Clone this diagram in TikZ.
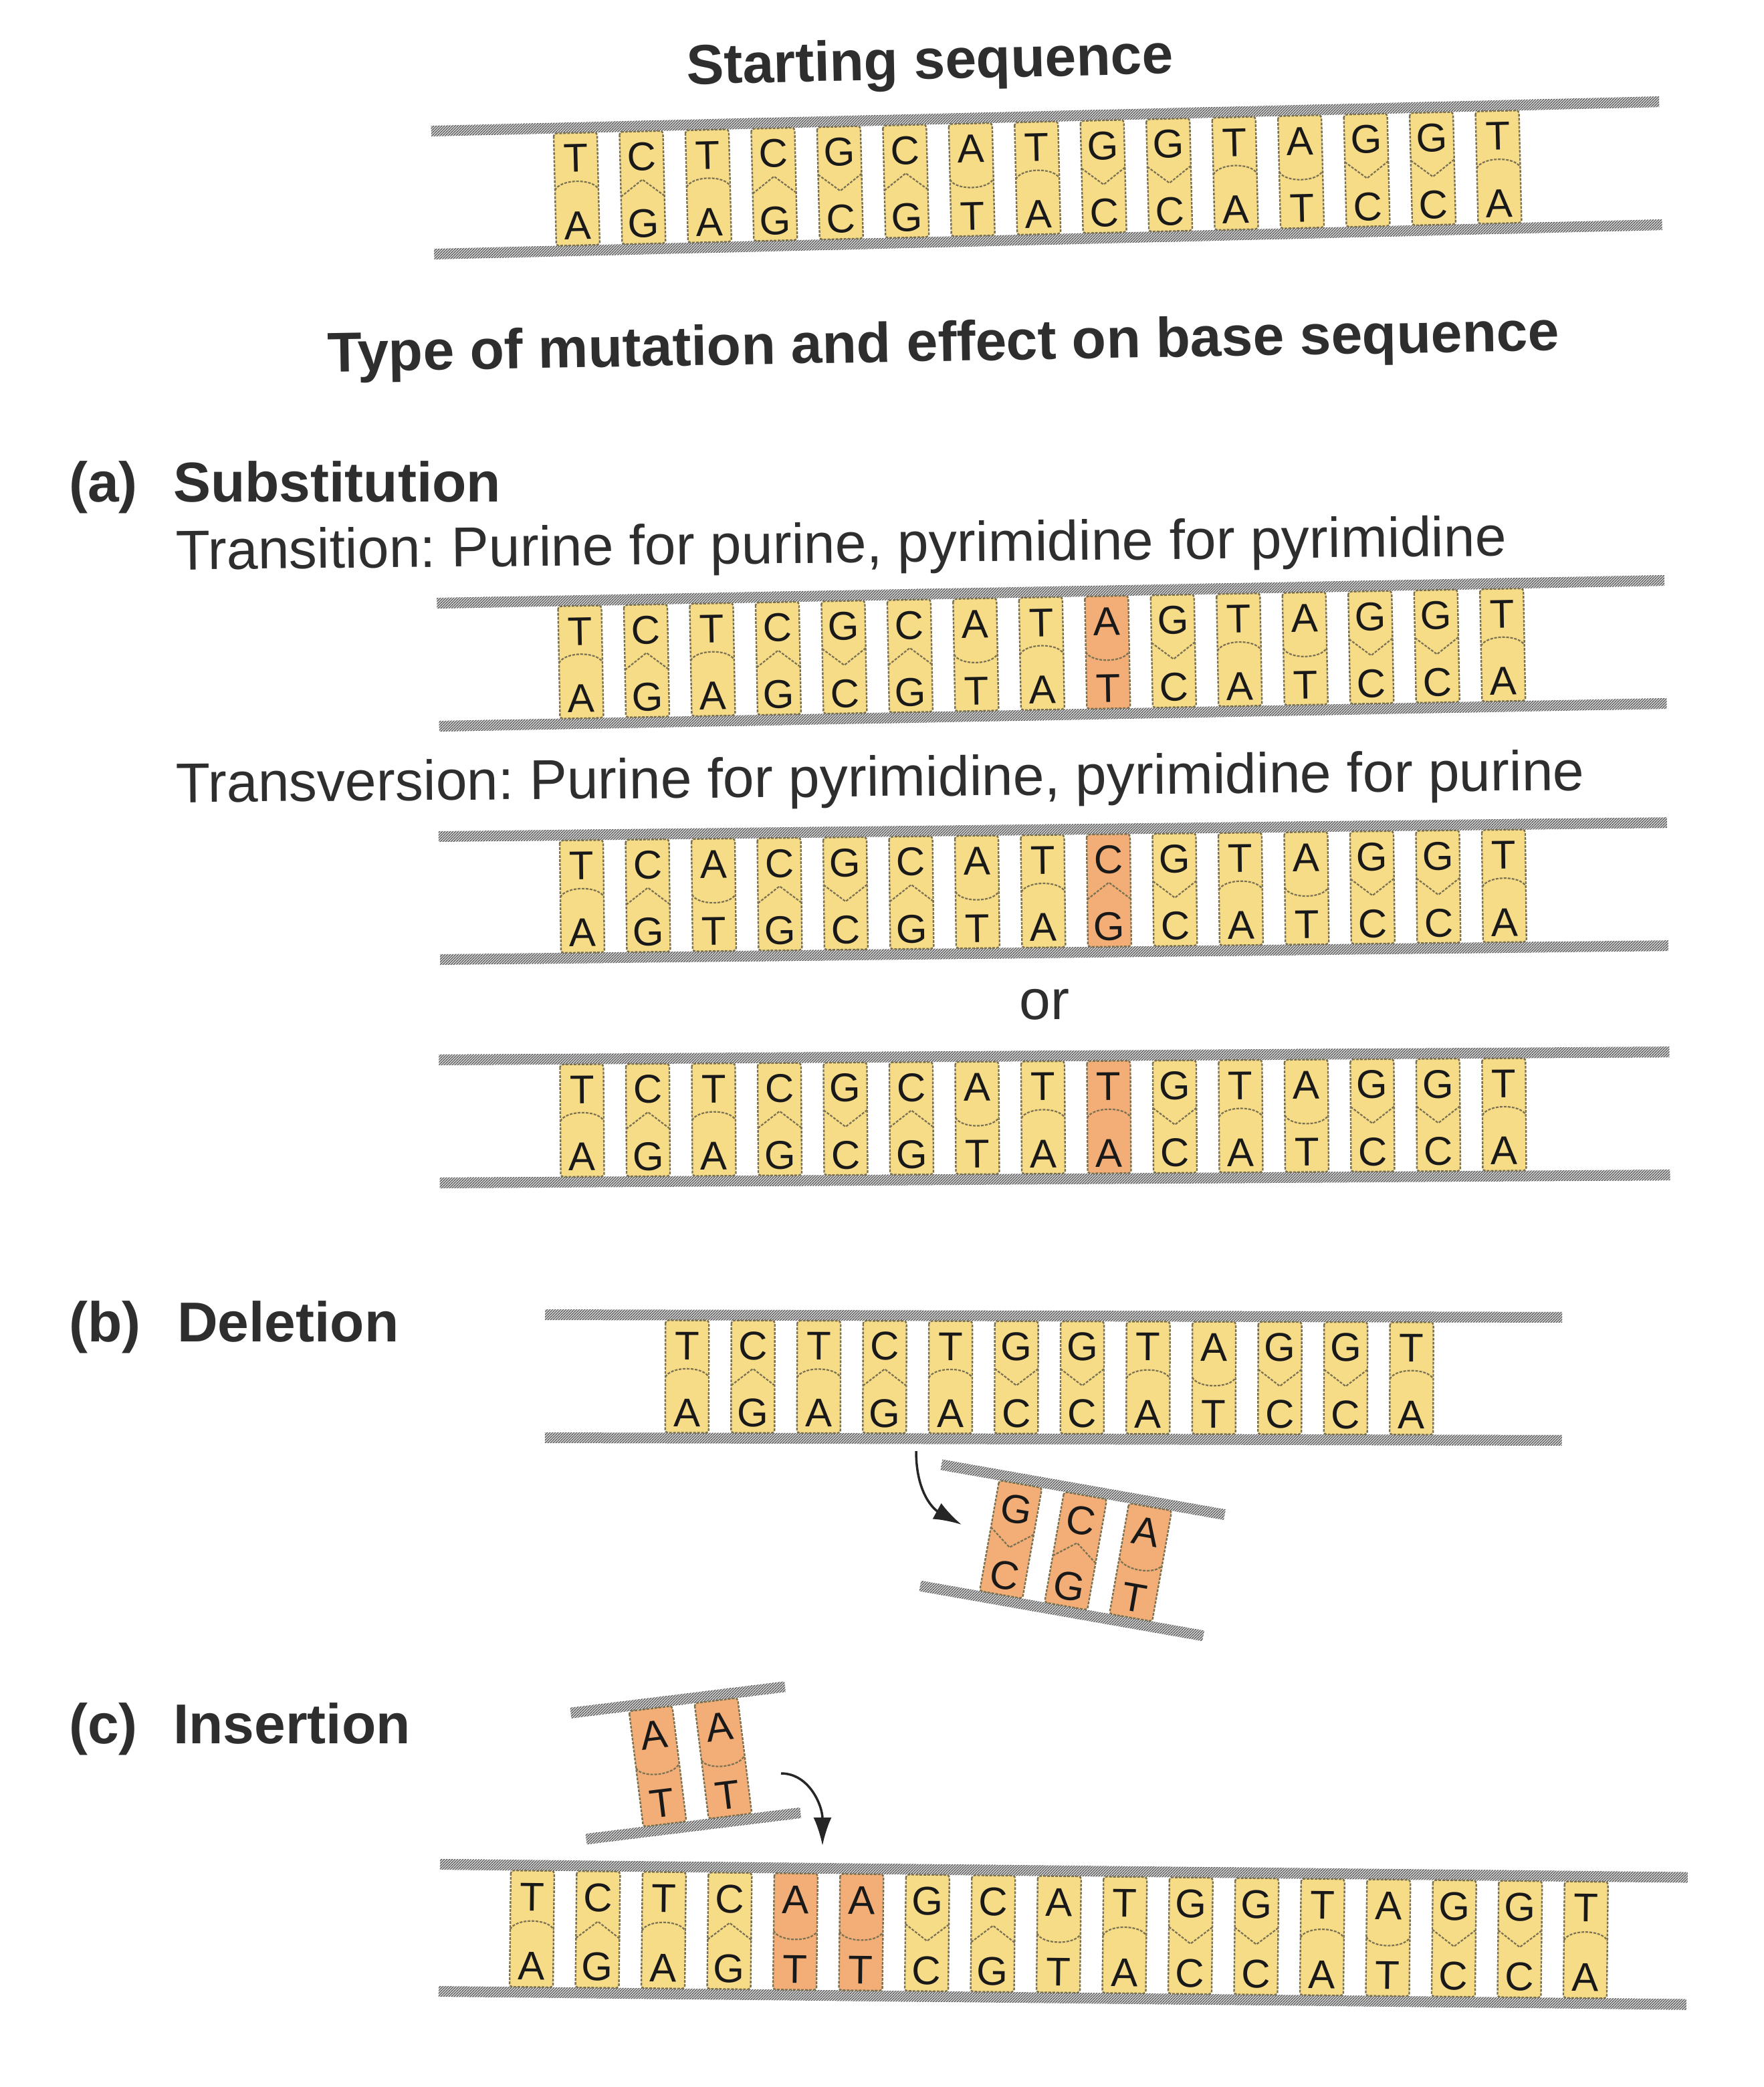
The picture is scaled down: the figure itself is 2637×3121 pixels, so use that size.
\documentclass[tikz,border=0pt]{standalone}
\usepackage{fontspec}
\setmainfont{Liberation Sans}
\usetikzlibrary{patterns,arrows.meta}
\frenchspacing
\pgfdeclarepatternformonly{bbhatch}{\pgfqpoint{-1pt}{-1pt}}{\pgfqpoint{5pt}{5pt}}{\pgfqpoint{4pt}{4pt}}{%
  \pgfsetlinewidth{1.7pt}%
  \pgfpathmoveto{\pgfqpoint{-0.5pt}{-0.5pt}}%
  \pgfpathlineto{\pgfqpoint{4.5pt}{4.5pt}}%
  \pgfusepath{stroke}}
\definecolor{ybox}{HTML}{F7DC88}
\definecolor{obox}{HTML}{F2AE76}
\definecolor{bbgray}{HTML}{6A6A6A}
\definecolor{edgec}{HTML}{7A7152}
\definecolor{txt}{HTML}{2E2E2E}
\tikzset{
  hd/.style={font=\fontsize{84}{100}\selectfont\bfseries, text=txt, inner sep=0},
  tx/.style={font=\fontsize{84}{100}\selectfont, text=txt, inner sep=0},
  baseletter/.style={font=\fontsize{60}{72}\selectfont, text=black!90, inner sep=0, anchor=center},
  boxline/.style={draw=edgec, line width=2.4pt, dash pattern=on 4pt off 2pt, rounded corners=4pt},
  bond/.style={draw=edgec, line width=2.2pt, dash pattern=on 4pt off 2pt},
  backbone/.style={pattern=bbhatch, pattern color=bbgray},
  arr/.style={draw=black!85, line width=3.5pt, -{Latex[length=42pt,width=27pt]}},
}
\newcommand\dnaladder[2]{%
  \fill[backbone] (0,-#2-8) rectangle (#1,-#2+8);
  \fill[backbone] (0,#2-8) rectangle (#1,#2+8);
}
\newcommand\dnapairs[4]{%
  \foreach \tp/\bt/\cl [count=\i from 0] in {#4}{%
    \pgfmathsetmacro\xx{#2+\i*98.5}%
    \pgfmathsetmacro\hb{#3-8}%
    \fill[fill=\cl, rounded corners=4pt] (\xx,-\hb) rectangle (\xx+65,\hb);
    \if\tp T\draw[bond] (\xx,1) .. controls (\xx+8,-16) and (\xx+57,-16) .. (\xx+65,1);\fi
    \if\tp A\draw[bond] (\xx,-1) .. controls (\xx+8,16) and (\xx+57,16) .. (\xx+65,-1);\fi
    \if\tp C\draw[bond] (\xx,13) -- (\xx+32.5,-12) -- (\xx+65,13);\fi
    \if\tp G\draw[bond] (\xx,-13) -- (\xx+32.5,12) -- (\xx+65,-13);\fi
    \draw[boxline] (\xx,-\hb) rectangle (\xx+65,\hb);
    \node[baseletter] (#1-\i-t) at (\xx+32.5,-0.5*#3) {\tp};
    \node[baseletter] (#1-\i-b) at (\xx+32.5,0.59*#3) {\bt};
  }%
}
\begin{document}
\begin{tikzpicture}[x=1pt,y=-1pt]
\useasboundingbox (0,0) rectangle (2637,3121);

% titles
\node[hd, anchor=base, rotate=1.3] (title) at (1391,118) {Starting sequence};
\node[hd, anchor=base, rotate=1.0] (typeline) at (1411,540) {Type of mutation and effect on base sequence};

% starting sequence
\begin{scope}[shift={(647,288)}, rotate=1.37, transform shape]
  \dnaladder{1837}{92}
  \dnapairs{s}{183}{92}{T/A/ybox,C/G/ybox,T/A/ybox,C/G/ybox,G/C/ybox,C/G/ybox,A/T/ybox,T/A/ybox,G/C/ybox,G/C/ybox,T/A/ybox,A/T/ybox,G/C/ybox,G/C/ybox,T/A/ybox}
\end{scope}

% (a) substitution
\node[hd, anchor=base west] (alab) at (103,750) {(a)};
\node[hd, anchor=base west] (asub) at (259,750) {Substitution};
\node[tx, anchor=base west, rotate=0.6] (transi) at (263,852) {Transition: Purine for purine, pyrimidine for pyrimidine};
\begin{scope}[shift={(655,994)}, rotate=1.06, transform shape]
  \dnaladder{1836}{92}
  \dnapairs{ti}{181}{92}{T/A/ybox,C/G/ybox,T/A/ybox,C/G/ybox,G/C/ybox,C/G/ybox,A/T/ybox,T/A/ybox,A/T/obox,G/C/ybox,T/A/ybox,A/T/ybox,G/C/ybox,G/C/ybox,T/A/ybox}
\end{scope}

\node[tx, anchor=base west, rotate=0.5] (transv) at (263,1200) {Transversion: Purine for pyrimidine, pyrimidine for purine};
\begin{scope}[shift={(657,1343)}, rotate=0.65, transform shape]
  \dnaladder{1837}{92}
  \dnapairs{tv}{181}{92}{T/A/ybox,C/G/ybox,A/T/ybox,C/G/ybox,G/C/ybox,C/G/ybox,A/T/ybox,T/A/ybox,C/G/obox,G/C/ybox,T/A/ybox,A/T/ybox,G/C/ybox,G/C/ybox,T/A/ybox}
\end{scope}

\node[tx, anchor=base] (ortext) at (1562,1524) {or};
\begin{scope}[shift={(657,1677)}, rotate=0.37, transform shape]
  \dnaladder{1840}{92}
  \dnapairs{tw}{181}{92}{T/A/ybox,C/G/ybox,T/A/ybox,C/G/ybox,G/C/ybox,C/G/ybox,A/T/ybox,T/A/ybox,T/A/obox,G/C/ybox,T/A/ybox,A/T/ybox,G/C/ybox,G/C/ybox,T/A/ybox}
\end{scope}

% (b) deletion
\node[hd, anchor=base west] (blab) at (103,2006) {(b)};
\node[hd, anchor=base west] (bdel) at (265,2006) {Deletion};
\begin{scope}[shift={(815,2058)}, rotate=-0.15, transform shape]
  \dnaladder{1521}{92}
  \dnapairs{d}{180}{92}{T/A/ybox,C/G/ybox,T/A/ybox,C/G/ybox,T/A/ybox,G/C/ybox,G/C/ybox,T/A/ybox,A/T/ybox,G/C/ybox,G/C/ybox,T/A/ybox}
\end{scope}
\begin{scope}[shift={(1392,2281)}, rotate=-10, transform shape]
  \dnaladder{430}{92}
  \dnapairs{df}{89}{92}{G/C/obox,C/G/obox,A/T/obox}
\end{scope}
\coordinate (darrs) at (1370,2170);
\coordinate (darre) at (1438,2280);
\draw[arr] (darrs) .. controls (1370,2235) and (1398,2258) .. (darre);

% (c) insertion
\node[hd, anchor=base west] (clab) at (103,2607) {(c)};
\node[hd, anchor=base west] (cins) at (259,2607) {Insertion};
\begin{scope}[shift={(865,2656)}, rotate=7, transform shape]
  \dnaladder{323}{95}
  \dnapairs{if}{87}{95}{A/T/obox,A/T/obox}
\end{scope}
\coordinate (iarrs) at (1168,2652);
\coordinate (iarre) at (1230,2760);
\draw[arr] (iarrs) .. controls (1210,2652) and (1230,2700) .. (iarre);
\begin{scope}[shift={(657,2883)}, rotate=-0.6, transform shape]
  \dnaladder{1866}{95}
  \dnapairs{n}{106}{95}{T/A/ybox,C/G/ybox,T/A/ybox,C/G/ybox,A/T/obox,A/T/obox,G/C/ybox,C/G/ybox,A/T/ybox,T/A/ybox,G/C/ybox,G/C/ybox,T/A/ybox,A/T/ybox,G/C/ybox,G/C/ybox,T/A/ybox}
\end{scope}
\end{tikzpicture}
\end{document}
